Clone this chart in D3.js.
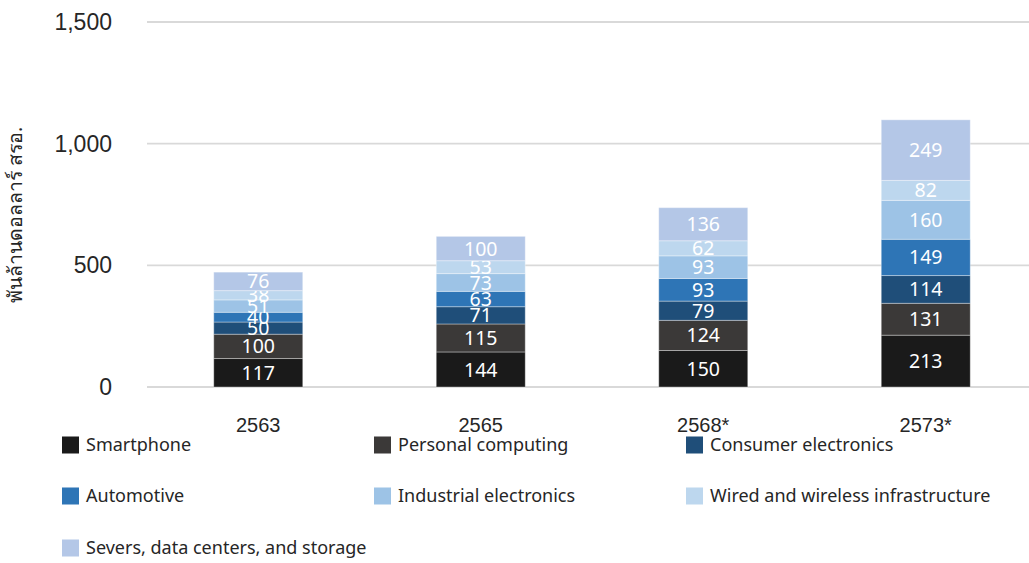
<!DOCTYPE html>
<html>
<head>
<meta charset="utf-8">
<script src="https://cdn.jsdelivr.net/npm/d3@7"></script>
<style>
  html, body { margin: 0; padding: 0; background: #fff; }
  svg { display: block; font-family: "Noto Sans", "Open Sans", "DejaVu Sans", sans-serif; }
</style>
</head>
<body>
<svg id="chart" width="1029" height="563"></svg>
<script>
const categories = ["2563", "2565", "2568*", "2573*"];
const seriesNames = ["Smartphone", "Personal computing", "Consumer electronics", "Automotive", "Industrial electronics", "Wired and wireless infrastructure", "Severs, data centers, and storage"];
const smartphone = [117, 144, 150, 213];
const personalComputing = [100, 115, 124, 131];
const consumerElectronics = [50, 71, 79, 114];
const automotive = [40, 63, 93, 149];
const industrialElectronics = [51, 73, 93, 160];
const wiredWireless = [38, 53, 62, 82];
const servers = [76, 100, 136, 249];
const yTicks = [0, 500, 1000, 1500];
const yTitle = "พันล้านดอลลาร์ สรอ.";
const colors = ["#1a1a1a", "#3b3938", "#1f4e79", "#2e75b6", "#9dc3e6", "#bdd7ee", "#b4c7e7"];

const seriesValues = [smartphone, personalComputing, consumerElectronics, automotive, industrialElectronics, wiredWireless, servers];
const rows = categories.map((c, i) => {
  const r = { cat: c };
  seriesNames.forEach((s, j) => r[s] = seriesValues[j][i]);
  return r;
});

const svg = d3.select("#chart");
const x = d3.scaleBand().domain(categories).range([147, 1037]).paddingInner(0.6).paddingOuter(0.3);
const y = d3.scaleLinear().domain([0, 1500]).range([387, 22]);

// gridlines
svg.append("g").selectAll("line").data(yTicks).join("line")
  .attr("x1", 147).attr("x2", 1030)
  .attr("y1", d => y(d)).attr("y2", d => y(d))
  .attr("stroke", "#d9d9d9").attr("stroke-width", 1.8);

// y axis labels
const yAxis = d3.axisLeft(y).tickValues(yTicks).tickFormat(d3.format(",")).tickSize(0).tickPadding(0);
const yg = svg.append("g").attr("transform", "translate(112,0)").call(yAxis);
yg.select(".domain").remove();
yg.selectAll("text").attr("font-size", 23).attr("fill", "#262626").attr("font-family", "inherit");

// y title
svg.append("text")
  .attr("transform", "translate(22,215) rotate(-90)")
  .attr("text-anchor", "middle")
  .attr("font-size", 19.5)
  .attr("fill", "#262626")
  .text(yTitle);

// stacks
const stack = d3.stack().keys(seriesNames)(rows);
const groups = svg.append("g").selectAll("g").data(stack).join("g")
  .attr("fill", (d, i) => colors[i]);
groups.selectAll("rect").data(d => d).join("rect")
  .attr("x", d => x(d.data.cat))
  .attr("width", x.bandwidth())
  .attr("y", d => y(d[1]))
  .attr("height", d => y(d[0]) - y(d[1]))
  .attr("stroke", "#ffffff").attr("stroke-opacity", 0.35).attr("stroke-width", 1);

// value labels
groups.selectAll("text").data(d => d.map(v => ({ v, key: d.key }))).join("text")
  .attr("x", d => x(d.v.data.cat) + x.bandwidth() / 2)
  .attr("y", d => (y(d.v[0]) + y(d.v[1])) / 2)
  .attr("dy", "0.36em")
  .attr("text-anchor", "middle")
  .attr("font-size", 19.5)
  .attr("fill", "#ffffff")
  .text(d => d.v.data[d.key]);

// x axis labels
const xAxis = d3.axisBottom(x).tickSize(0).tickPadding(0);
const xg = svg.append("g").attr("transform", "translate(0,418)").call(xAxis);
xg.select(".domain").remove();
xg.selectAll("text").attr("font-size", 20).attr("fill", "#262626").attr("font-family", "inherit");

// legend
const legendX = [62, 374, 686];
const legendY = [445, 496, 548];
const lg = svg.append("g").selectAll("g").data(seriesNames).join("g")
  .attr("transform", (d, i) => `translate(${legendX[i % 3]},${legendY[Math.floor(i / 3)]})`);
lg.append("rect").attr("x", 0).attr("y", -8.5).attr("width", 17).attr("height", 17)
  .attr("fill", (d, i) => colors[i]);
lg.append("text").attr("x", 24).attr("y", 0).attr("dy", "0.33em")
  .attr("font-size", 18).attr("fill", "#262626").text(d => d);
</script>
</body>
</html>
